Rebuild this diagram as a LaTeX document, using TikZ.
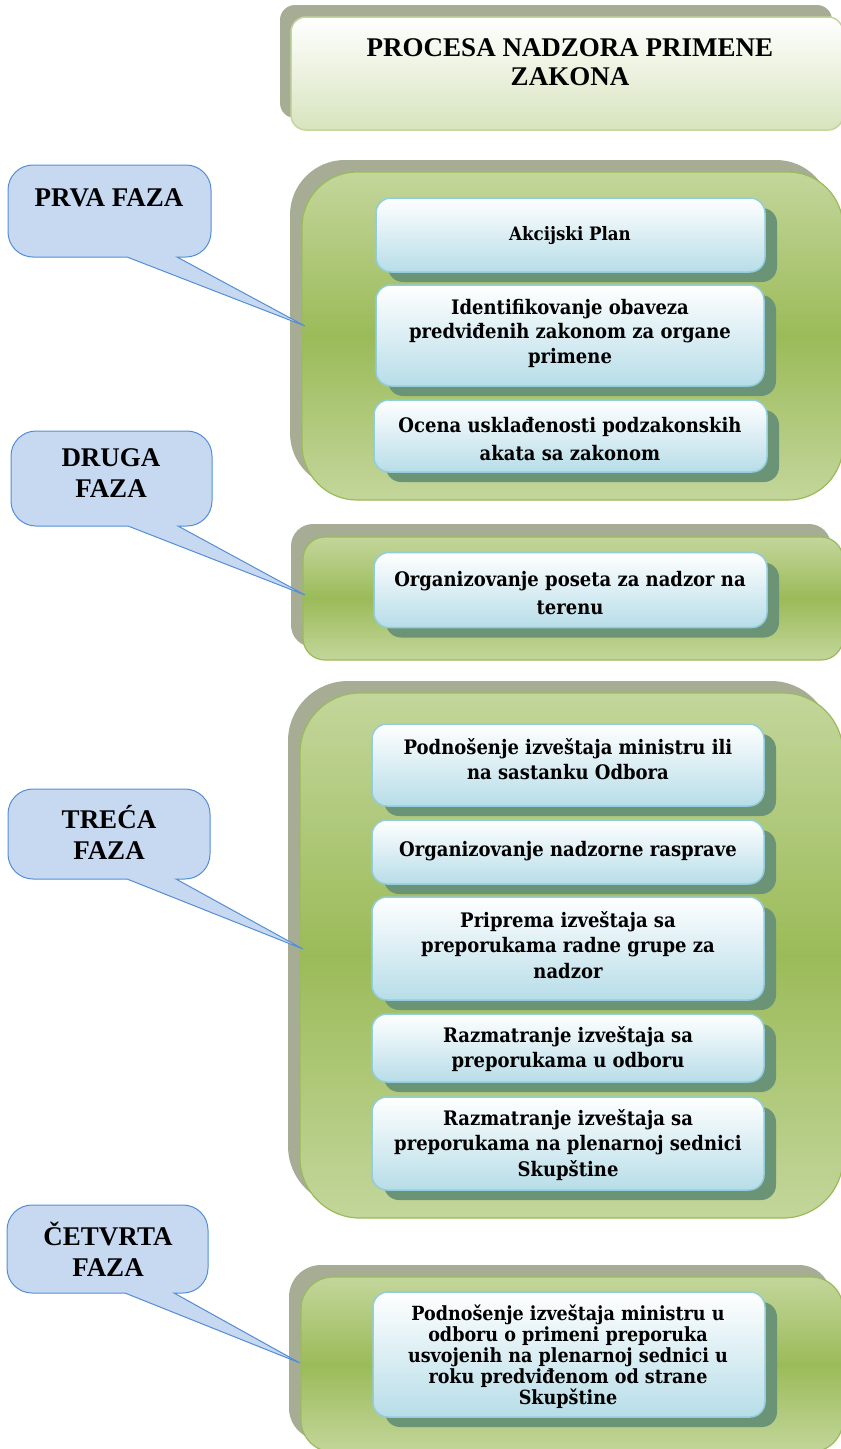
\documentclass[tikz,border=0pt]{standalone}
\usepackage{fontspec}
\setmainfont{Liberation Serif}
\newfontfamily\boxfont{DejaVu Serif Condensed}
\usetikzlibrary{shadows}
\definecolor{calloutfill}{HTML}{C6D9F1}
\definecolor{calloutline}{HTML}{558ED5}
\definecolor{panelshadow}{HTML}{A6AD94}
\definecolor{panellight}{HTML}{C3D69B}
\definecolor{panelmid}{HTML}{9BBB59}
\definecolor{panelline}{HTML}{9BBB59}
\definecolor{titlebottom}{HTML}{D7E4BD}
\definecolor{titleline}{HTML}{C3D69B}
\definecolor{boxbottom}{HTML}{B7DDE8}
\definecolor{boxline}{HTML}{92CDDC}
\definecolor{boxshadow}{HTML}{6B9376}
\newcommand{\callshape}[8]{%
 \draw[callout] (#6,#4) -- (#3-25,#4) arc[start angle=90,end angle=0,radius=25]
  -- (#3,#2+25) arc[start angle=0,end angle=-90,radius=25]
  -- (#1+25,#2) arc[start angle=270,end angle=180,radius=25]
  -- (#1,#4-25) arc[start angle=180,end angle=90,radius=25]
  -- (#5,#4) -- (#7,#8) -- cycle;}
\newcommand{\bx}[2]{\boxfont\bfseries\fontsize{#1}{#2}\selectfont}
\begin{document}
\begin{tikzpicture}[x=1pt,y=-1pt,
  panel/.style={draw=panelline, line width=1.2pt, top color=panellight, bottom color=panellight, middle color=panelmid, inner sep=0pt},
  titlepanel/.style={draw=titleline, line width=1.5pt, top color=white, bottom color=titlebottom, inner sep=0pt, rounded corners=15pt,
     drop shadow={shadow xshift=-11pt, shadow yshift=12pt, fill=panelshadow, opacity=1}},
  stepbox/.style={draw=boxline, line width=1.5pt, top color=white, bottom color=boxbottom, rounded corners=15pt, inner sep=0pt,
     minimum width=392pt, drop shadow={shadow xshift=12pt, shadow yshift=-10pt, fill=boxshadow, opacity=1}},
  callout/.style={draw=calloutline, fill=calloutfill, line width=1pt, line join=miter},
  calltext/.style={font=\bfseries\fontsize{27}{31}\selectfont, align=center, inner sep=0pt},
  titletext/.style={font=\bfseries\fontsize{27}{29}\selectfont, align=center, inner sep=0pt},
  boxtext/.style={font=\bx{20}{25.5}, align=center, inner sep=0pt}
]
\useasboundingbox (0,0) rectangle (841,1449);
\fill[white] (0,0) rectangle (841,1449);

% title
\node[titlepanel, minimum width=552pt, minimum height=113pt] (tp) at (567,73.5) {};
\node[titletext] (title) at (570,62) {PROCESA NADZORA PRIMENE\\ZAKONA};

% panels
\node[panel, rounded corners=55pt, minimum width=541pt, minimum height=328pt,
  drop shadow={shadow xshift=-12pt, shadow yshift=12pt, fill=panelshadow, opacity=1}] (p1) at (572.5,336) {};
\node[panel, rounded corners=22pt, minimum width=540pt, minimum height=123pt,
  drop shadow={shadow xshift=-12pt, shadow yshift=13pt, fill=panelshadow, opacity=1}] (p2) at (573,598.5) {};
\node[panel, rounded corners=60pt, minimum width=543pt, minimum height=525pt,
  drop shadow={shadow xshift=-12pt, shadow yshift=12pt, fill=panelshadow, opacity=1}] (p3) at (571.5,955.5) {};
\node[panel, rounded corners=32pt, minimum width=542pt, minimum height=175pt,
  drop shadow={shadow xshift=-12pt, shadow yshift=12pt, fill=panelshadow, opacity=1}] (p4) at (572,1364.5) {};

% boxes panel 1
\node[stepbox, minimum width=389pt, minimum height=74pt] (a1) at (570.5,235) {};
\node[stepbox, minimum width=388pt, minimum height=101pt] (a2) at (570,335.5) {};
\node[stepbox, minimum width=393pt, minimum height=72pt] (a3) at (570.5,436) {};
\node[boxtext, font=\bx{18.5}{22}] (ta1) at (570,236) {Akcijski Plan};
\node[boxtext, font=\bx{20}{24.5}] (ta2) at (570,333) {Identifikovanje obaveza\\predviđenih zakonom za organe\\primene};
\node[boxtext, font=\bx{20}{27.5}] (ta3) at (570,439) {Ocena usklađenosti podzakonskih\\akata sa zakonom};

% box panel 2
\node[stepbox, minimum width=393pt, minimum height=75pt] (b1) at (570.5,590) {};
\node[boxtext, font=\bx{20}{28}] (tb1) at (570,593) {Organizovanje poseta za nadzor na\\terenu};

% boxes panel 3
\node[stepbox, minimum height=82pt] (c1) at (568,765) {};
\node[stepbox, minimum height=64pt] (c2) at (568,852) {};
\node[stepbox, minimum height=103pt] (c3) at (568,948.5) {};
\node[stepbox, minimum height=68pt] (c4) at (568,1048) {};
\node[stepbox, minimum height=93pt] (c5) at (568,1143.5) {};
\node[boxtext] (tc1) at (568,759) {Podnošenje izveštaja ministru ili\\na sastanku Odbora};
\node[boxtext] (tc2) at (568,851) {Organizovanje nadzorne rasprave};
\node[boxtext] (tc3) at (568,945) {Priprema izveštaja sa\\preporukama radne grupe za\\nadzor};
\node[boxtext] (tc4) at (568,1049) {Razmatranje izveštaja sa\\preporukama u odboru};
\node[boxtext] (tc5) at (568,1145) {Razmatranje izveštaja sa\\preporukama na plenarnoj sednici\\Skupštine};

% box panel 4
\node[stepbox, minimum width=392pt, minimum height=125pt] (d1) at (569,1354.5) {};
\node[boxtext, font=\bx{19.5}{21}] (td1) at (568,1357) {Podnošenje izveštaja ministru u\\odboru o primeni preporuka\\usvojenih na plenarnoj sednici u\\roku predviđenom od strane\\Skupštine};

% callouts
\coordinate (tip1) at (305,326);
\coordinate (tip2) at (305,595);
\coordinate (tip3) at (303,949);
\coordinate (tip4) at (300,1363);
\callshape{8}{165}{211}{257}{127}{177}{305}{326}
\callshape{11}{431}{212}{526}{128}{178}{305}{595}
\callshape{8}{789}{210}{879}{127}{176}{303}{949}
\callshape{7}{1205}{208}{1293}{125}{174}{300}{1363}
\node[calltext] (k1) at (109,198) {PRVA FAZA};
\node[calltext] (k2) at (111,473) {DRUGA\\FAZA};
\node[calltext] (k3) at (109,832.5) {TREĆA\\FAZA};
\node[calltext] (k4) at (108,1249) {ČETVRTA\\FAZA};
\end{tikzpicture}
\end{document}
